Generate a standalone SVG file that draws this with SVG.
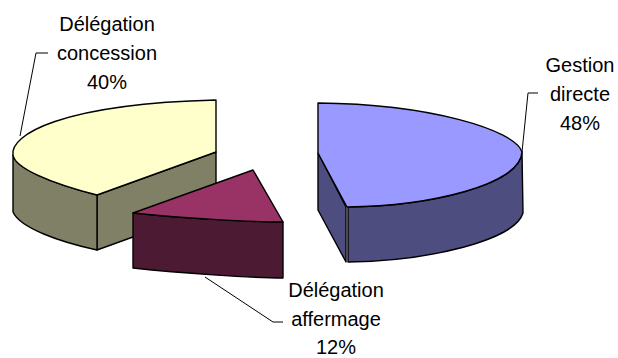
<svg xmlns="http://www.w3.org/2000/svg" width="618" height="358" viewBox="0 0 618 358">
<style>
.face{stroke:#000;stroke-width:1.4;stroke-linejoin:round}
.lbl{font-family:"Liberation Sans",Arial,sans-serif;font-size:20px;fill:#000;text-anchor:middle}
.lead{fill:none;stroke:#000;stroke-width:1}
</style>
<rect width="618" height="358" fill="#fff"/>
<g id="slice-concession">
<path class="face" fill="#808066" d="M97,195 L216,152 L216,207 L97,250 Z"/>
<path class="face" fill="#808066" d="M13,155 C15,168 50,183 97,195 L97,250 C60,242 20,228 13,212 Z"/>
<path class="face" fill="#FFFFCC" d="M216,100 L216,152 L97,195 C50,183 15,168 13,155 C10,135 60,104 216,100 Z"/>
</g>
<g id="slice-affermage">
<path class="face" fill="#4D1A33" d="M133,213 C180,218 250,222 283,222 L283,278 C250,278 180,273 133,268 Z"/>
<path class="face" fill="#993366" d="M133,213 L253,170 L283,222 C250,222 180,218 133,213 Z"/>
</g>
<g id="slice-gestion">
<path class="face" fill="#4D4D80" d="M318,153 L346,207 L346,262 L318,210 Z"/>
<path class="face" fill="#4D4D80" d="M522,152 C520,185 430,206 348,207 L348,262 C430,261 515,240 523,213 Z"/>
<path class="face" fill="#9999FF" d="M318,103 C430,104 515,130 522,152 C520,185 430,206 347,207 L318,153 Z"/>
</g>
<g id="connectors">
<path class="lead" d="M48,53 H36 L20,136"/>
<path class="lead" d="M538,93 H528 L522,152"/>
<path class="lead" d="M205,277 L273,322 H283"/>
</g>
<g id="label-concession">
<text class="lbl" x="107" y="31">Délégation</text>
<text class="lbl" x="107" y="60">concession</text>
<text class="lbl" x="107" y="89">40%</text>
</g>
<g id="label-gestion">
<text class="lbl" x="580" y="72">Gestion</text>
<text class="lbl" x="580" y="101">directe</text>
<text class="lbl" x="580" y="130">48%</text>
</g>
<g id="label-affermage">
<text class="lbl" x="336" y="297">Délégation</text>
<text class="lbl" x="336" y="326">affermage</text>
<text class="lbl" x="336" y="354">12%</text>
</g>
</svg>
